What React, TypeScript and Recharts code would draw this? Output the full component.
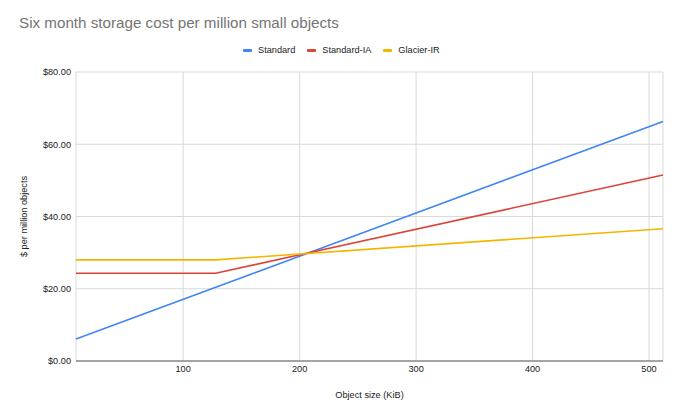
import { LineChart, Line, XAxis, YAxis, CartesianGrid } from 'recharts';

// object size in KiB and six-month cost in $ per million objects
const objectSizes = [8, 128, 512];
const standardCost = [6.1, 20.4, 66.3];
const standardIaCost = [24.3, 24.3, 51.5];
const glacierIrCost = [28.0, 28.0, 36.6];

const seriesKeys = ['standard', 'standardIa', 'glacierIr'];
const seriesNames = ['Standard', 'Standard-IA', 'Glacier-IR'];
const seriesColors = ['#4285f4', '#db4437', '#f4b400'];

const xTicks = [100, 200, 300, 400, 500];
const yTicks = [0, 20, 40, 60, 80];

const data = objectSizes.map((size, i) => ({
  size,
  standard: standardCost[i],
  standardIa: standardIaCost[i],
  glacierIr: glacierIrCost[i],
}));

const font = '"Liberation Sans", Arial, sans-serif';

const YTitle = ({ viewBox }: any) => {
  const cy = viewBox.y + viewBox.height / 2;
  return (
    <text
      x={24}
      y={cy}
      transform={`rotate(-90, 24, ${cy})`}
      textAnchor="middle"
      dominantBaseline="central"
      fontSize={9.2}
      fill="#222"
      fontFamily={font}
    >
      $ per million objects
    </text>
  );
};

export default function App() {
  return (
    <div style={{ position: 'relative', width: 680, height: 417, fontFamily: font, background: '#fff' }}>
      <style>{'body{margin:0}'}</style>
      <div
        style={{
          position: 'absolute',
          left: 19,
          top: 14,
          fontSize: 15.2,
          color: '#757575',
          lineHeight: '18px',
        }}
      >
        Six month storage cost per million small objects
      </div>
      <div
        style={{
          position: 'absolute',
          left: 243,
          top: 44,
          display: 'flex',
          alignItems: 'center',
          fontSize: 9.2,
          color: '#222',
          lineHeight: '12px',
        }}
      >
        {seriesNames.map((name, i) => (
          <div key={name} style={{ display: 'flex', alignItems: 'center', marginRight: 12 }}>
            <span
              style={{
                display: 'inline-block',
                width: 9,
                height: 3,
                borderRadius: 1,
                background: seriesColors[i],
                marginRight: 6,
              }}
            />
            {name}
          </div>
        ))}
      </div>
      <LineChart
        width={680}
        height={417}
        data={data}
        margin={{ top: 72, right: 17, bottom: 12, left: 0 }}
      >
        <CartesianGrid stroke="#d9d9d9" strokeWidth={1} />
        <XAxis
          dataKey="size"
          type="number"
          domain={[8, 512]}
          ticks={xTicks}
          height={44}
          tickLine={false}
          tickSize={0}
          tickMargin={4}
          axisLine={{ stroke: '#8c8c8c', strokeWidth: 1.5 }}
          tick={{ fontSize: 9.2, fill: '#222', fontFamily: font }}
          label={{
            value: 'Object size (KiB)',
            position: 'insideBottom',
            offset: 7,
            fontSize: 9.2,
            fill: '#222',
            fontFamily: font,
          }}
        />
        <YAxis
          type="number"
          domain={[0, 80]}
          ticks={yTicks}
          width={76}
          tickLine={false}
          tickSize={0}
          tickMargin={5}
          axisLine={false}
          tickFormatter={(v: number) => `$${v.toFixed(2)}`}
          tick={{ fontSize: 9.2, fill: '#222', fontFamily: font }}
          label={<YTitle />}
        />
        {seriesKeys.map((key, i) => (
          <Line
            key={key}
            type="linear"
            dataKey={key}
            name={seriesNames[i]}
            stroke={seriesColors[i]}
            strokeWidth={1.6}
            dot={false}
            isAnimationActive={false}
          />
        ))}
      </LineChart>
    </div>
  );
}
